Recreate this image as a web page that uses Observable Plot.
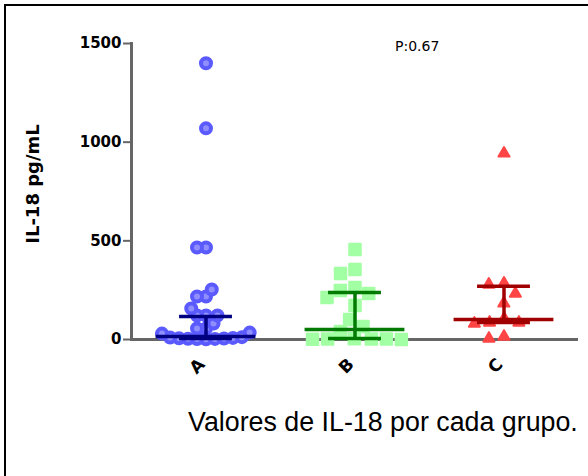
<!DOCTYPE html>
<html><head><meta charset="utf-8">
<script src="https://cdn.jsdelivr.net/npm/d3@7"></script>
<script src="https://cdn.jsdelivr.net/npm/@observablehq/plot@0.6"></script>
<style>
body{margin:0;background:#fff;}
#wrap{position:relative;width:588px;height:476px;overflow:hidden;background:#fff;}
#border{position:absolute;left:4px;top:4px;width:600px;height:500px;border-left:2px solid #000;border-top:2px solid #000;}
#chart{position:absolute;left:0;top:0;}
#ytitle{position:absolute;left:33px;top:184px;transform:translate(-50%,-50%) rotate(-90deg);font:bold 18px "DejaVu Sans";white-space:nowrap;line-height:18px;}
#pval{position:absolute;left:395px;top:39px;font:14px "DejaVu Sans";line-height:14px;white-space:nowrap;}
#caption{position:absolute;left:188px;top:409px;font:26.8px "Liberation Sans";line-height:26px;white-space:nowrap;}
</style></head><body>
<div id="wrap"><div id="border"></div><div id="chart"></div>
<div id="ytitle">IL-18 pg/mL</div><div id="pval">P:0.67</div><div id="caption">Valores de IL-18 por cada grupo.</div></div>
<script>
// categories
const groups = ["A", "B", "C"];
// individual values (pg/mL)
const valuesA = [1400, 1070, 466, 466, 253, 218, 218, 157, 122, 122, 122, 81, 56, 56, 35, 30, 12, 10, 8, 6, 5, 4, 3, 2, 1];
const valuesB = [456, 355, 335, 264, 248, 233, 213, 172, 101, 66, 41, 4, 3, 2, 2, 1, 0];
const valuesC = [943, 284, 279, 233, 183, 106, 86, 86, 81, 15, 5];
// summary lines: median and error bar limits
const medians = [15, 51, 101];
const lowers = [5, 5, 86];
const uppers = [117, 238, 270];
// y axis ticks
const yTicks = [0, 500, 1000, 1500];

const valuesByGroup = {A: valuesA, B: valuesB, C: valuesC};
const rows = groups.flatMap(g => valuesByGroup[g].map(v => ({group: g, value: v})));
const summary = groups.map((g, i) => ({group: g, median: medians[i], lower: lowers[i], upper: uppers[i]}));

const styles = {
  A: {symbol: "circle", r: 5, fill: "#8f8fff", stroke: "#5a5aff", strokeWidth: 4, padding: -1, bar: "#000080", asc: true},
  B: {symbol: "square", r: 6.5, fill: "#a3ffa3", stroke: "#a3ffa3", strokeWidth: 2, padding: 2, bar: "#007a00", asc: false},
  C: {symbol: "triangle", r: 4.1, fill: "#ff4545", stroke: "#ff4545", strokeWidth: 2, padding: 7, bar: "#a00000", asc: false}
};
const barColor = d => styles[d.group].bar;
const ZERO = () => 0;

const chart = Plot.plot({
  width: 588,
  height: 400,
  marginTop: 43,
  marginBottom: 61,
  marginLeft: 130,
  marginRight: 10,
  style: {fontFamily: "DejaVu Sans", fontSize: "15px", fontWeight: "bold", overflow: "visible", background: "transparent"},
  fx: {domain: groups, padding: 0, label: null},
  x: {domain: [-1, 1], axis: null},
  y: {domain: [0, 1500], label: null},
  color: {type: "identity"},
  marks: [
    Plot.ruleY([0], {stroke: "#666", strokeWidth: 3}),
    ...groups.map(g => {
      const s = styles[g];
      const data = rows.filter(d => d.group === g).sort((a, b) => s.asc ? a.value - b.value : b.value - a.value);
      return Plot.dot(data, Plot.dodgeX({anchor: "middle", padding: s.padding}, {
        fx: "group", y: "value", r: s.r, symbol: s.symbol,
        fill: s.fill, stroke: s.stroke, strokeWidth: s.strokeWidth, strokeLinejoin: "round"
      }));
    }),
    Plot.ruleX(summary, {fx: "group", x: ZERO, y1: "lower", y2: "upper", stroke: barColor, strokeWidth: 3.5}),
    Plot.ruleY(summary, {fx: "group", y: "median", x1: () => -0.67, x2: () => 0.67, stroke: barColor, strokeWidth: 3.5}),
    Plot.ruleY(summary, {fx: "group", y: "upper", x1: () => -0.355, x2: () => 0.355, stroke: barColor, strokeWidth: 3.5}),
    Plot.ruleY(summary, {fx: "group", y: "lower", x1: () => -0.355, x2: () => 0.355, stroke: barColor, strokeWidth: 3.5}),
    Plot.frame({anchor: "left", facetAnchor: "left", stroke: "#666", strokeWidth: 3}),
    Plot.axisY({ticks: yTicks, tickFormat: d => String(d), tickSize: 8, tickPadding: 2, stroke: "#666", strokeWidth: 2, fill: "black", label: null}),
    Plot.axisFx({anchor: "bottom", tickRotate: -45, tickSize: 0, tickPadding: 22, dx: -4, fontSize: 17, fill: "black", label: null})
  ]
});
document.getElementById("chart").appendChild(chart);
</script>
</body></html>
